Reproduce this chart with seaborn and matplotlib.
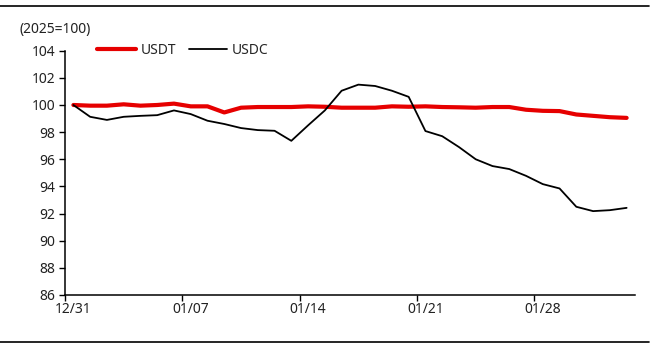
import numpy as np
import pandas as pd
import seaborn as sns
import matplotlib
matplotlib.use("Agg")
import matplotlib.pyplot as plt
from matplotlib.lines import Line2D

# daily index values, 12/31 .. 02/02 (2025=100)
usdt = [100.0, 99.95, 99.95, 100.05, 99.95, 100.0, 100.1, 99.9, 99.9, 99.45,
        99.8, 99.85, 99.85, 99.85, 99.9, 99.87, 99.8, 99.8, 99.8, 99.9,
        99.87, 99.9, 99.85, 99.83, 99.8, 99.85, 99.85, 99.65, 99.57, 99.55,
        99.3, 99.2, 99.1, 99.05]
usdc = [100.0, 99.13, 98.9, 99.13, 99.2, 99.25, 99.6, 99.33, 98.84, 98.6,
        98.3, 98.15, 98.1, 97.36, 98.5, 99.6, 101.05, 101.5, 101.4, 101.05,
        100.6, 98.08, 97.7, 96.9, 96.0, 95.5, 95.28, 94.78, 94.17, 93.85,
        92.5, 92.18, 92.25, 92.42]
tick_labels = ["12/31", "01/07", "01/14", "01/21", "01/28"]
y_ticks = [86, 88, 90, 92, 94, 96, 98, 100, 102, 104]

n = len(usdt)
df = pd.DataFrame({
    "day": list(range(n)) * 2,
    "value": usdt + usdc,
    "coin": ["USDT"] * n + ["USDC"] * n,
})

sns.set_style("ticks")
plt.rcParams['font.family'] = ['Noto Sans', 'DejaVu Sans']
fs = 10

fig = plt.figure(figsize=(6.57, 3.52), dpi=100)
W, H = 657, 352
ax = fig.add_axes([65 / W, 1 - 295 / H, (635 - 65) / W, (295 - 50.7) / H])

sns.lineplot(data=df, x="day", y="value", hue="coin", size="coin",
             palette={"USDT": "#e60000", "USDC": "black"},
             sizes={"USDT": 3.0, "USDC": 1.3}, ax=ax, legend=False)

ax.set_xlim(-0.5, n - 0.5)
ax.set_ylim(86, 104)
ax.set_yticks(y_ticks)
ax.set_yticklabels([str(v) for v in y_ticks], fontsize=fs, color="#222222")
ax.set_xticks([0, 7, 14, 21, 28])
ax.set_xticklabels(tick_labels, fontsize=fs, color="#222222")
ax.set_xticks([-0.5, 6.5, 13.5, 20.5, 27.5], minor=True)
ax.tick_params(axis="x", which="major", length=0, pad=5)
ax.tick_params(axis="x", which="minor", length=4, width=1, color="black")
ax.tick_params(axis="y", length=4, width=1, color="black", pad=3)
ax.set_xlabel("")
ax.set_ylabel("")
sns.despine(ax=ax)
for s in ["left", "bottom"]:
    ax.spines[s].set_linewidth(1.1)
    ax.spines[s].set_color("black")

handles = [Line2D([], [], color="#e60000", lw=3.0),
           Line2D([], [], color="black", lw=1.3)]
ax.legend(handles, ["USDT", "USDC"], loc="center left", ncol=2, frameon=False,
          bbox_to_anchor=(0.035, 1.0), fontsize=fs, handlelength=2.8,
          handletextpad=0.3, columnspacing=0.9)

fig.text(20 / W, 1 - 30 / H, "(2025=100)", fontsize=fs, color="#222222",
         va="center", ha="left")

# horizontal rules at top and bottom of the frame
fig.add_artist(Line2D([0, 649 / W], [1 - 6 / H] * 2, color="black", lw=1.2))
fig.add_artist(Line2D([0, 649 / W], [1 - 342 / H] * 2, color="black", lw=1.2))

fig.savefig("out.png", dpi=100)
